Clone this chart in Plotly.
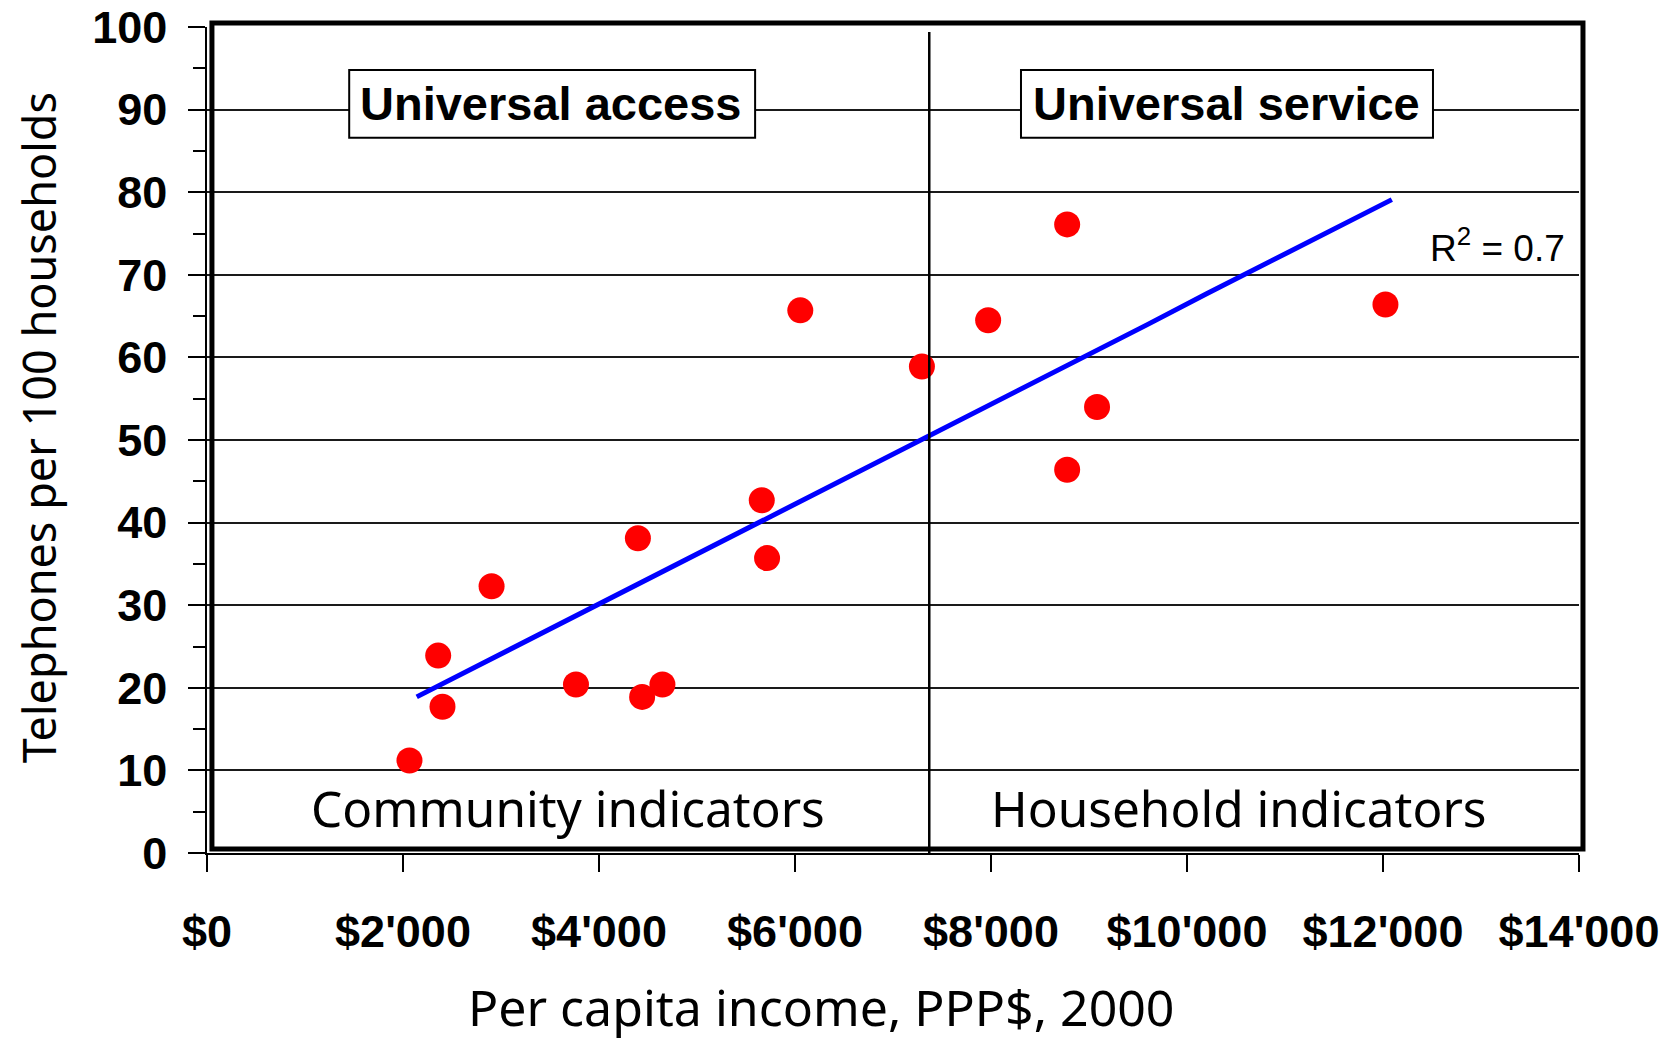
import plotly.graph_objects as go

# ---- data ----
income = [2066, 2359, 2403, 2904, 3765, 4397, 4440, 4647, 5661, 5715, 6054,
          7295, 7971, 8777, 8777, 9082, 12025]
phones = [11.2, 23.9, 17.7, 32.3, 20.4, 38.1, 18.9, 20.4, 42.7, 35.7, 65.7,
          58.9, 64.5, 76.1, 46.4, 54.0, 66.4]

trend_x = [2140, 3400, 4600, 5300, 6500, 7350, 7800, 8400, 9600, 10200, 10800, 11500, 12090]
trend_y = [18.9, 26.5, 33.8, 38.0, 45.3, 50.4, 53.1, 56.8, 64.0, 67.7, 71.3, 75.5, 79.1]

x_tickvals = [0, 2000, 4000, 6000, 8000, 10000, 12000, 14000]
x_ticktext = ["$0", "$2'000", "$4'000", "$6'000", "$8'000", "$10'000", "$12'000", "$14'000"]
y_tickvals = [0, 10, 20, 30, 40, 50, 60, 70, 80, 90, 100]
y_ticktext = ["0", "10", "20", "30", "40", "50", "60", "70", "80", "90", "100"]

divider_x = 7370
r2_text = "R<sup>2</sup> = 0.7"

BOLD = "Liberation Sans, Arial, sans-serif"
REG = "Noto Sans, Open Sans, sans-serif"

fig = go.Figure()
fig.add_trace(go.Scatter(x=trend_x, y=trend_y, mode="lines",
                         line=dict(color="#0000FF", width=5), hoverinfo="skip",
                         showlegend=False))
fig.add_trace(go.Scatter(x=income, y=phones, mode="markers",
                         marker=dict(color="#FF0000", size=26, line=dict(width=0)),
                         showlegend=False))

# divider line
fig.add_shape(type="line", x0=divider_x, x1=divider_x, y0=0, y1=99.4,
              xref="x", yref="y", line=dict(color="black", width=2.5), layer="above")

# label boxes
fig.add_shape(type="rect", x0=1451, x1=5593, y0=86.6, y1=94.8, xref="x", yref="y",
              fillcolor="white", line=dict(color="black", width=2), layer="above")
fig.add_shape(type="rect", x0=8306, x1=12510, y0=86.6, y1=94.8, xref="x", yref="y",
              fillcolor="white", line=dict(color="black", width=2), layer="above")

# thick frame (paper coords, offset like the original)
fig.add_shape(type="rect", x0=0.0036, x1=1.0029, y0=0.0048, y1=1.0048,
              xref="paper", yref="paper", line=dict(color="black", width=5),
              fillcolor="rgba(0,0,0,0)", layer="above")

ann = []
ann.append(dict(x=3515, y=90.7, xref="x", yref="y", text="<b>Universal access</b>",
                showarrow=False, font=dict(family=BOLD, size=47, color="black"),
                xanchor="center", yanchor="middle"))
ann.append(dict(x=10408, y=90.7, xref="x", yref="y", text="<b>Universal service</b>",
                showarrow=False, font=dict(family=BOLD, size=47, color="black"),
                xanchor="center", yanchor="middle"))
ann.append(dict(x=13171, y=73.5, xref="x", yref="y", text=r2_text,
                showarrow=False, font=dict(family=BOLD, size=37, color="black"),
                xanchor="center", yanchor="middle"))
ann.append(dict(x=3680, y=5.5, xref="x", yref="y", text="Community indicators",
                showarrow=False, font=dict(family=REG, size=49.5, color="black"),
                xanchor="center", yanchor="middle"))
ann.append(dict(x=10530, y=5.5, xref="x", yref="y", text="Household indicators",
                showarrow=False, font=dict(family=REG, size=49.5, color="black"),
                xanchor="center", yanchor="middle"))
ann.append(dict(x=-0.123, y=0.5145, xref="paper", yref="paper",
                text="Telephones per 100 households", textangle=-90,
                showarrow=False, font=dict(family=REG, size=45, color="black"),
                xanchor="center", yanchor="middle"))
ann.append(dict(x=0.4475, y=-0.186, xref="paper", yref="paper",
                text="Per capita income, PPP$, 2000",
                showarrow=False, font=dict(family=REG, size=50, color="black"),
                xanchor="center", yanchor="middle"))

fig.update_layout(
    width=1675, height=1039,
    margin=dict(l=207, r=96, t=27, b=186, autoexpand=False),
    paper_bgcolor="white", plot_bgcolor="white",
    annotations=ann,
    showlegend=False,
)
fig.update_xaxes(range=[0, 14000], tickvals=x_tickvals, ticktext=x_ticktext,
                 automargin=False,
                 showgrid=False, zeroline=False, showline=True, linecolor="black",
                 linewidth=1.5, ticks="outside", ticklen=17, tickwidth=1.5,
                 tickcolor="black", ticklabelstandoff=21,
                 tickfont=dict(family=BOLD, size=45, color="black", weight="bold"))
fig.update_yaxes(range=[0, 100], tickvals=y_tickvals, ticktext=y_ticktext,
                 automargin=False,
                 showgrid=True, gridcolor="#1a1a1a", gridwidth=1.5,
                 zeroline=False, showline=True, linecolor="black",
                 linewidth=1.5, ticks="outside", ticklen=17, tickwidth=1.5,
                 tickcolor="black", ticklabelstandoff=12,
                 minor=dict(dtick=5, tick0=5, ticks="outside", ticklen=12,
                            tickwidth=1.5, tickcolor="black", showgrid=False),
                 tickfont=dict(family=BOLD, size=45, color="black", weight="bold"))

fig.write_html("out.html", config={"displayModeBar": False},
               post_script="document.body.style.margin='0px';document.body.style.overflow='hidden';")
